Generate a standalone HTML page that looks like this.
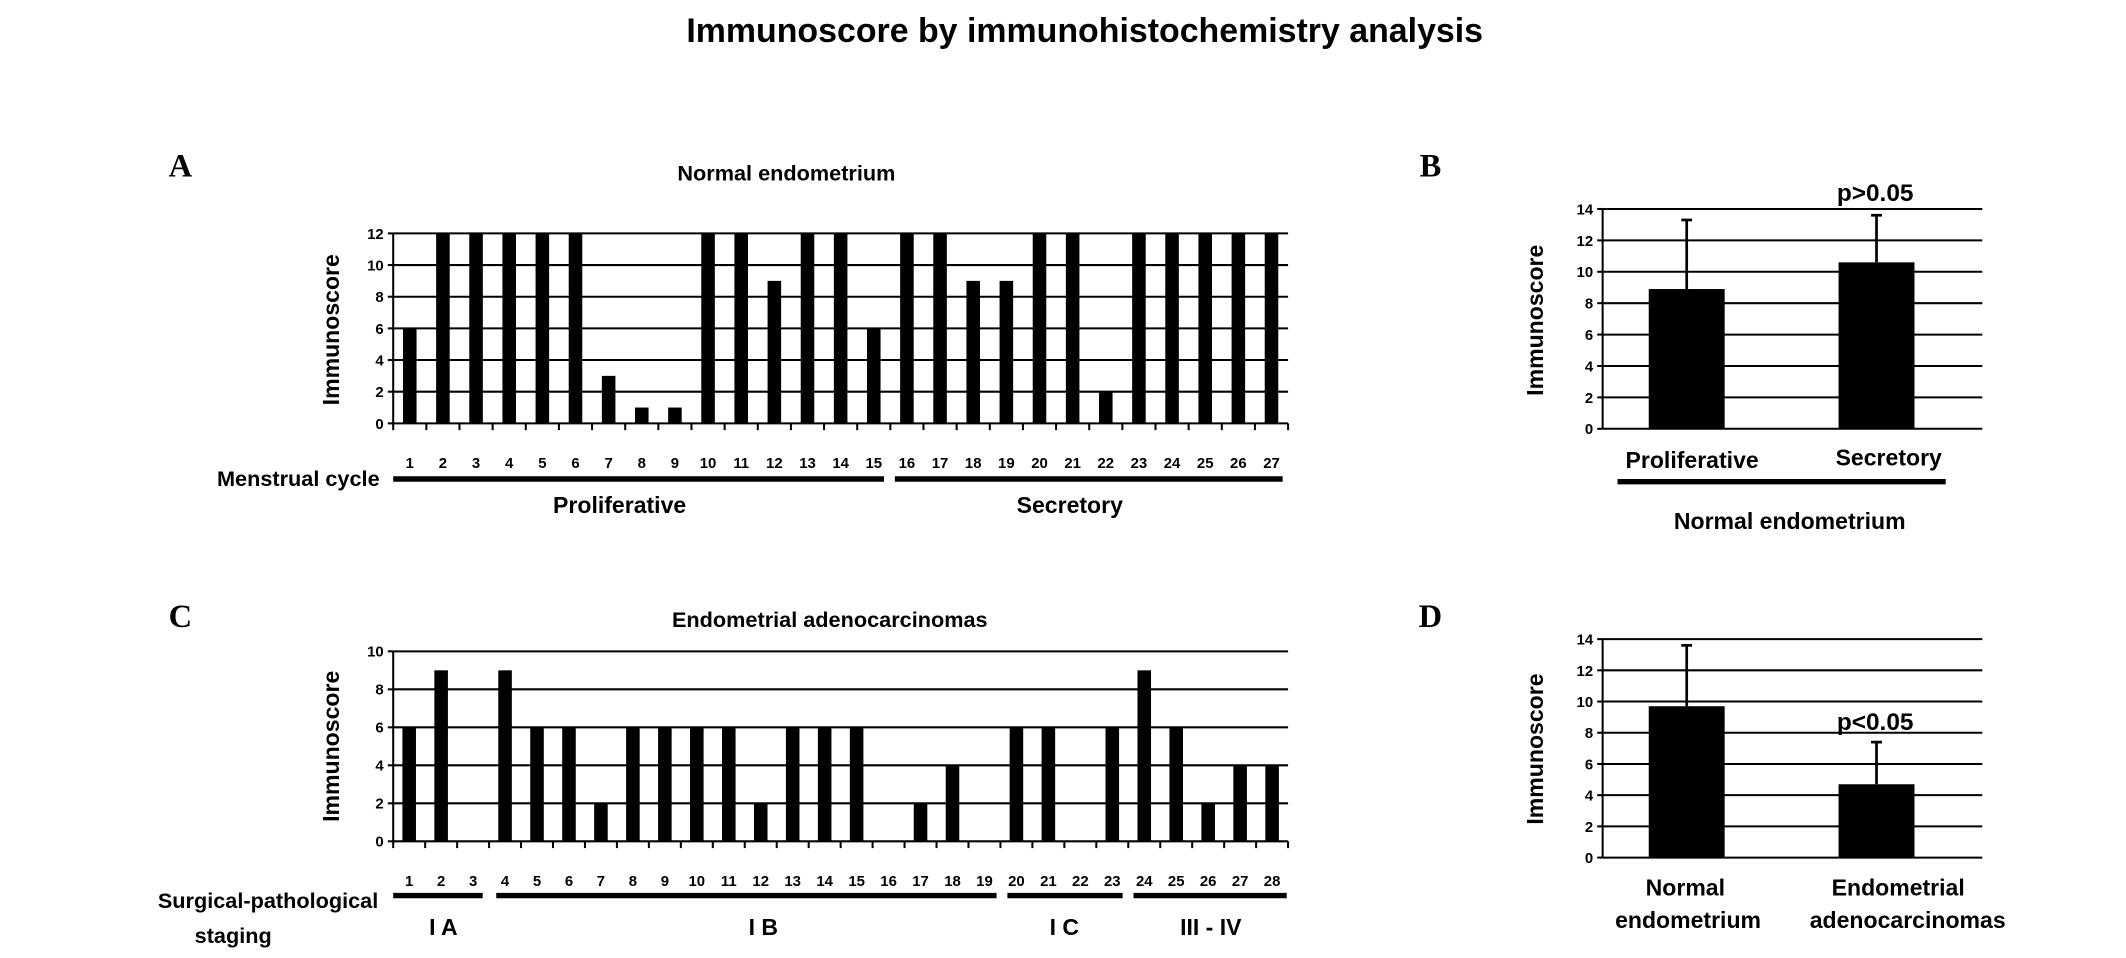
<!DOCTYPE html>
<html><head><meta charset="utf-8"><style>
html,body{margin:0;padding:0;background:#fff;}
svg{display:block;font-family:"Liberation Sans",sans-serif;font-weight:bold;}
</style></head><body>
<svg id="fig" width="2126" height="958" viewBox="0 0 1568 706" preserveAspectRatio="none" xmlns="http://www.w3.org/2000/svg">
<text x="800" y="31" text-anchor="middle" font-size="25">Immunoscore by immunohistochemistry analysis</text>
</svg>
<script>
const catsA = ["1","2","3","4","5","6","7","8","9","10","11","12","13","14","15","16","17","18","19","20","21","22","23","24","25","26","27"];
const valsA = [6,12,12,12,12,12,3,1,1,12,12,9,12,12,6,12,12,9,9,12,12,2,12,12,12,12,12];
const ticksA = [0,2,4,6,8,10,12];
const catsC = ["1","2","3","4","5","6","7","8","9","10","11","12","13","14","15","16","17","18","19","20","21","22","23","24","25","26","27","28"];
const valsC = [6,9,0,9,6,6,2,6,6,6,6,2,6,6,6,0,2,4,0,6,6,0,6,9,6,2,4,4];
const ticksC = [0,2,4,6,8,10];
const catsB = ["Proliferative","Secretory"];
const meansB = [8.9,10.6];
const errTopB = [13.3,13.6];
const catsD = [["Normal","endometrium"],["Endometrial","adenocarcinomas"]];
const meansD = [9.7,4.7];
const errTopD = [13.6,7.4];
const ticksBD = [0,2,4,6,8,10,12,14];

const svg = document.getElementById('fig');
const NS = 'http://www.w3.org/2000/svg';
function el(tag, attrs, parent){
  const e = document.createElementNS(NS, tag);
  for (const k in attrs) e.setAttribute(k, attrs[k]);
  (parent||svg).appendChild(e);
  return e;
}
function txt(x,y,s,size,anchor,parent){
  const t = el('text',{x:x,y:y,'font-size':size,'text-anchor':anchor||'middle'},parent);
  t.textContent = s;
  return t;
}
function panelLetter(x,y,s){
  const t = txt(x,y,s,24,'middle');
  t.setAttribute('font-family','"Liberation Serif",serif');
  
  
}
function yTitle(x,y){
  const t = el('text',{x:0,y:0,'font-size':17,'text-anchor':'middle',transform:'translate('+x+','+y+') rotate(-90)'});
  t.textContent='Immunoscore';
  
  
}
function grid(g,x0,x1,ticks,yS,max){
  ticks.forEach(v=>{
    const y=yS(v);
    const l=el('line',{x1:x0,x2:x1,y1:y,y2:y,stroke:'#000','stroke-width':1.5},g);
    
    
    el('line',{x1:x0-4,x2:x0,y1:y,y2:y,stroke:'#000','stroke-width':1.5},g);
    const t=txt(x0-7,y+4,String(v),11,'end',g);
    
    
  });
  el('line',{x1:x0,x2:x0,y1:yS(max),y2:yS(0),stroke:'#000','stroke-width':1.5},g);
}
function barPanel(name,cats,vals,ticks,max,x0,x1,y0,yTop,labelY){
  const g=el('g',{});
  
  
  const yS=v=>y0-(y0-yTop)*v/max;
  grid(g,x0,x1,ticks,yS,max);
  const step=(x1-x0)/cats.length;
  for(let i=0;i<=cats.length;i++){
    el('line',{x1:x0+i*step,x2:x0+i*step,y1:y0,y2:y0+5,stroke:'#000','stroke-width':1.5},g);
  }
  cats.forEach((c,i)=>{
    const cx=x0+step*(i+0.5);
    if(vals[i]>0){
      const r=el('rect',{x:cx-5,y:yS(vals[i]),width:10,height:y0-yS(vals[i]),fill:'#000'},g);
      
      
    }
    const t=txt(cx,labelY,c,11,'middle',g);
    
    
  });
}
function errPanel(name,cats,means,tops,x0,x1,y0,yTop){
  const g=el('g',{});
  
  
  const yS=v=>y0-(y0-yTop)*v/14;
  grid(g,x0,x1,ticksBD,yS,14);
  const step=(x1-x0)/cats.length;
  cats.forEach((c,i)=>{
    const cx=x0+step*(i+0.5)-8;
    const e=el('line',{x1:cx,x2:cx,y1:yS(tops[i]),y2:yS(means[i]),stroke:'#000','stroke-width':2},g);
    
    
    el('line',{x1:cx-4,x2:cx+4,y1:yS(tops[i]),y2:yS(tops[i]),stroke:'#000','stroke-width':2},g);
    const r=el('rect',{x:cx-28,y:yS(means[i]),width:56,height:y0-yS(means[i]),fill:'#000'},g);
    
    
  });
  return g;
}
function hbar(x1,x2,y,name){
  const l=el('line',{x1:x1,x2:x2,y1:y,y2:y,stroke:'#000','stroke-width':4});
  
  
}
function label(x,y,s,size,name,anchor){
  const t=txt(x,y,s,size,anchor||'middle');
  
  
  return t;
}

// Panel A
panelLetter(133,130,'A');
label(580,133,'Normal endometrium',16,'panel-a-title');
yTitle(250,243);
barPanel('panel-a-chart',catsA,valsA,ticksA,12,290,950,312,172,345);
label(280,358,'Menstrual cycle',16,'x-group-title','end');
hbar(290,652,353,'proliferative-bracket');
hbar(660,946,353,'secretory-bracket');
label(457,378,'Proliferative',17,'proliferative-label');
label(789,378,'Secretory',17,'secretory-label');

// Panel C
panelLetter(133,462,'C');
label(612,462,'Endometrial adenocarcinomas',16,'panel-c-title');
yTitle(250,550);
barPanel('panel-c-chart',catsC,valsC,ticksC,10,290,950,620,480,653);
label(279,669,'Surgical-pathological',16,'x-group-title','end');
label(172,695,'staging',16,'staging-label');
hbar(290,356,660,'stage-ia-bracket');
hbar(366,735,660,'stage-ib-bracket');
hbar(743,828,660,'stage-ic-bracket');
hbar(836,949,660,'stage-iii-iv-bracket');
label(327,689,'I A',17,'stage-ia-label');
label(563,689,'I B',17,'stage-ib-label');
label(785,689,'I C',17,'stage-ic-label');
label(893,689,'III - IV',17,'stage-iii-iv-label');

// Panel B
panelLetter(1055,130,'B');
yTitle(1138,236);
errPanel('panel-b-chart',catsB,meansB,errTopB,1182,1462,316,154);
label(1383,148,'p>0.05',18,'p-value-b');
label(1248,345,catsB[0],17,'proliferative-label');
label(1393,343,catsB[1],17,'secretory-label');
hbar(1193,1435,355,'normal-bracket');
label(1320,390,'Normal endometrium',17,'normal-endometrium-label');

// Panel D
panelLetter(1055,462,'D');
yTitle(1138,552);
errPanel('panel-d-chart',catsD,meansD,errTopD,1182,1462,632,471);
label(1383,538,'p<0.05',18,'p-value-d');
label(1243,660,catsD[0][0],17,'normal-label');
label(1245,684,catsD[0][1],17,'normal-label-2');
label(1400,660,catsD[1][0],17,'adeno-label');
label(1407,684,catsD[1][1],17,'adeno-label-2');
</script>
</body></html>
